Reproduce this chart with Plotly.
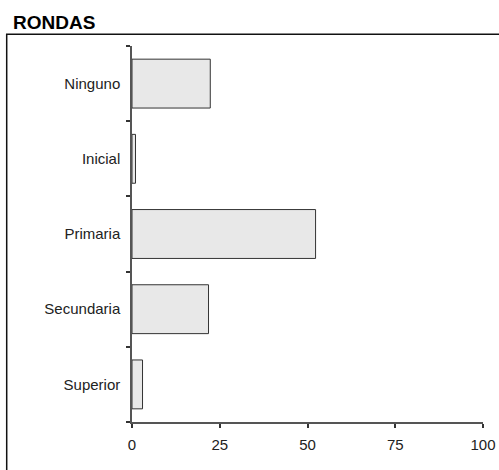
import plotly.graph_objects as go

categorias = ["Ninguno", "Inicial", "Primaria", "Secundaria", "Superior"]
porcentajes = [22.3, 1.0, 52.3, 21.8, 3.0]
ticks_x = [0, 25, 50, 75, 100]

W, H = 499, 470
L, R, T, B = 132, 16, 46, 48
pw, ph = W - L - R, H - T - B

fig = go.Figure(go.Bar(
    x=porcentajes,
    y=categorias,
    orientation="h",
    marker=dict(color="#e8e8e8", line=dict(color="#333333", width=1)),
    width=0.65,
))

fig.update_layout(
    width=W, height=H,
    margin=dict(l=L, r=R, t=T, b=B, autoexpand=False),
    plot_bgcolor="white", paper_bgcolor="white",
    font=dict(family="Liberation Sans, Arial, sans-serif", size=15, color="#222222"),
    showlegend=False,
    title=dict(text="<b>RONDAS</b>", font=dict(size=19, color="#000000"),
               xref="container", x=13 / W, xanchor="left",
               yref="container", y=1 - 22.5 / H, yanchor="middle"),
)

fig.update_xaxes(
    range=[0, 100], tickvals=ticks_x, showgrid=False, zeroline=False,
    showline=True, linecolor="#555555", linewidth=1.5, automargin=False,
    ticks="outside", ticklen=4, tickcolor="#333333", tickwidth=1.5,
    ticklabelstandoff=4,
)
fig.update_yaxes(
    categoryorder="array", categoryarray=categorias[::-1],
    range=[-0.5, 4.5], showgrid=False, zeroline=False,
    showline=True, linecolor="#555555", linewidth=1.5, automargin=False,
    ticks="outside", tickson="boundaries", ticklen=4, tickcolor="#333333", tickwidth=1.5,
    ticklabelstandoff=7,
)

# outer frame, partly outside the visible page
fig.add_shape(type="rect", xref="paper", yref="paper",
              x0=(6.7 - L) / pw, x1=(W + 10 - L) / pw,
              y0=(H - B - (H + 10)) / ph, y1=(H - B - 34.3) / ph,
              line=dict(color="#111111", width=1.5), fillcolor="rgba(0,0,0,0)")

fig.write_html("out.html", config={"displayModeBar": False},
               post_script="document.body.style.margin='0';")
